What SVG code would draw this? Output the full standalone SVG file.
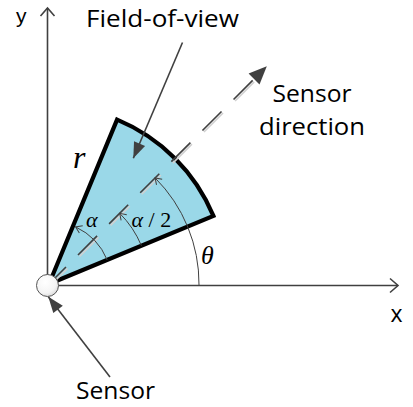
<svg xmlns="http://www.w3.org/2000/svg" width="413" height="407" viewBox="0 0 413 407">
<style>
.lbl{font-family:"Open Sans","Liberation Sans",sans-serif;font-size:23px;fill:#000}
.math{font-family:"Liberation Serif","DejaVu Serif",serif;font-style:italic;fill:#000}
.ln{stroke:#404040;stroke-width:1.6;fill:none}
.thin{stroke:#404040;stroke-width:1;fill:none}
.shadow{stroke:#d0d0d0;stroke-width:1.6;fill:none}
</style>
<defs>
<marker id="open" markerUnits="userSpaceOnUse" markerWidth="12" markerHeight="18" refX="9" refY="8" orient="auto" overflow="visible">
<path d="M1,1 L9,8 L1,15" fill="none" stroke="#404040" stroke-width="1.6"/>
</marker>
<marker id="small" markerUnits="userSpaceOnUse" markerWidth="8" markerHeight="10" refX="6" refY="4" orient="auto" overflow="visible">
<path d="M0,0 L6,4 L0,8" fill="none" stroke="#404040" stroke-width="1"/>
</marker>
<marker id="fill" markerUnits="userSpaceOnUse" markerWidth="18" markerHeight="14" refX="16" refY="6" orient="auto" overflow="visible">
<path d="M0,0 L16,6 L0,12 Z" fill="#404040"/>
</marker>
<radialGradient id="ball" cx="0.4" cy="0.35" r="0.7">
<stop offset="0" stop-color="#ffffff"/>
<stop offset="0.7" stop-color="#f4f4f4"/>
<stop offset="1" stop-color="#d8d8d8"/>
</radialGradient>
</defs>

<g id="fov">
<path d="M49,284 L213.4,215.9 A178,178 0 0 0 117.1,119.6 Z" fill="#9ad8e8" stroke="#000" stroke-width="4.2" stroke-linejoin="miter"/>
</g>

<g id="connectors">
<line class="ln" x1="47.5" y1="286" x2="47.5" y2="8" marker-end="url(#open)"/>
<line class="ln" x1="47" y1="285.5" x2="398" y2="285.5" marker-end="url(#open)"/>
<line class="shadow" x1="50.5" y1="285.5" x2="255.6" y2="80.4" stroke-dasharray="27 17" stroke-dashoffset="3"/>
<line class="ln" x1="49" y1="284" x2="256" y2="77" stroke-dasharray="27 17" stroke-dashoffset="3"/>
<polygon points="266.8,66.2 259.5,84.4 248.6,73.5" fill="#404040"/>
<path class="thin" d="M199,285 A150,150 0 0 0 155.1,177.9" marker-end="url(#small)"/>
<path class="thin" d="M141.4,245.7 A100,100 0 0 0 119.7,213.3" marker-end="url(#small)"/>
<path class="thin" d="M107.2,259.9 A63,63 0 0 0 75.6,226.9" marker-end="url(#small)"/>
<line class="ln" x1="182.5" y1="42.5" x2="133.3" y2="158.3" marker-end="url(#fill)"/>
<line class="ln" x1="110" y1="377" x2="48.3" y2="296.7" marker-end="url(#fill)"/>
</g>

<g id="sensor">
<circle cx="47.5" cy="285.5" r="11" fill="url(#ball)" stroke="#555" stroke-width="1"/>
</g>

<g id="labels">
<text class="lbl" x="86" y="26.5" textLength="153" lengthAdjust="spacingAndGlyphs">Field-of-view</text>
<text class="lbl" x="272.5" y="101.5" textLength="79" lengthAdjust="spacingAndGlyphs">Sensor</text>
<text class="lbl" x="259" y="135" textLength="106" lengthAdjust="spacingAndGlyphs">direction</text>
<text class="lbl" x="76" y="399" textLength="79" lengthAdjust="spacingAndGlyphs">Sensor</text>
<text x="16" y="22.5" font-family="Liberation Sans, sans-serif" font-size="21" fill="#000">y</text>
<text class="lbl" x="390.5" y="321.7">x</text>
<text class="math" x="73" y="168" font-size="32">r</text>
<text class="math" x="86" y="226.5" font-size="22">α</text>
<text class="math" x="131.5" y="226.5" font-size="22">α<tspan font-style="normal"> / 2</tspan></text>
<text class="math" x="201" y="263.5" font-size="26">θ</text>
</g>
</svg>
